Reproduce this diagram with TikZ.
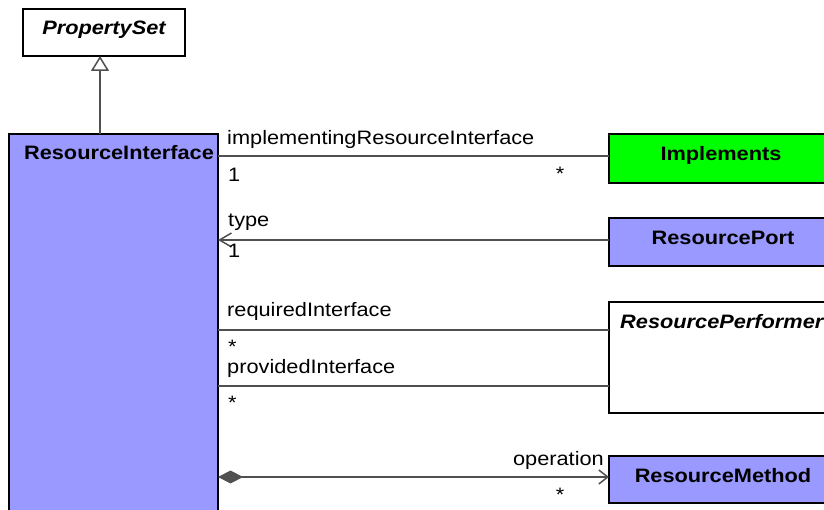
\documentclass[tikz,border=0pt]{standalone}
\usepackage{fontspec}
\setmainfont{Liberation Sans}[FakeStretch=1.12]
\usetikzlibrary{arrows.meta}
\definecolor{riblue}{HTML}{9999FF}
\definecolor{implgreen}{HTML}{00FF00}
\definecolor{linegray}{HTML}{505050}
\begin{document}
\begin{tikzpicture}[x=1bp,y=-1bp,
  font=\fontsize{19.5}{22}\selectfont,
  box/.style={draw=black, line width=2bp, inner sep=0pt, outer sep=0pt, anchor=north west},
  conn/.style={draw=linegray, line width=1.5bp},
  title/.style={anchor=base, inner sep=0pt, font=\fontsize{19.5}{22}\selectfont\bfseries},
  lbl/.style={anchor=base west, inner sep=0pt},
  mult/.style={anchor=base, inner sep=0pt}]
\useasboundingbox (0,0) rectangle (824,510);
\clip (0,0) rectangle (824,510);
% boxes
\node[box, fill=white, minimum width=162bp, minimum height=47bp] (ps) at (23,9) {};
\node[box, fill=riblue, minimum width=209bp, minimum height=396bp] (ri) at (9,134) {};
\node[box, fill=implgreen, minimum width=226bp, minimum height=49bp] (imp) at (609,134) {};
\node[box, fill=riblue, minimum width=226bp, minimum height=48bp] (rp) at (609,218) {};
\node[box, fill=white, minimum width=226bp, minimum height=111bp] (rper) at (609,302) {};
\node[box, fill=riblue, minimum width=226bp, minimum height=47bp] (rm) at (609,456) {};
% titles
\node[title, font=\fontsize{19.5}{22}\selectfont\bfseries\itshape] (pst) at (104,35) {PropertySet};
\node[title] (rit) at (119,160) {ResourceInterface};
\node[title] (impt) at (721,161) {Implements};
\node[title] (rpt) at (723,245) {ResourcePort};
\node[title, anchor=base west, font=\fontsize{19.5}{22}\selectfont\bfseries\itshape] (rpert) at (620,329) {ResourcePerformer};
\node[title] (rmt) at (723,482) {ResourceMethod};
% levels
\coordinate (gx) at (100,0);
\coordinate (l1) at (0,156);
\coordinate (l2) at (0,240);
\coordinate (l3) at (0,330);
\coordinate (l4) at (0,386);
\coordinate (l5) at (0,477);
% connectors
\draw[conn, -{Triangle[open, length=15bp, width=18bp, fill=white]}] (ri.north -| gx) -- (ps.south -| gx);
\draw[conn] (ri.east |- l1) -- (imp.west |- l1);
\draw[conn, {Straight Barb[length=12bp, width=14bp]}-] (ri.east |- l2) -- (rp.west |- l2);
\draw[conn] (ri.east |- l3) -- (rper.west |- l3);
\draw[conn] (ri.east |- l4) -- (rper.west |- l4);
\draw[conn, {Diamond[length=25bp, width=13bp, fill=linegray]}-{Straight Barb[length=9bp, width=14bp]}] (ri.east |- l5) -- (rm.west |- l5);
% labels
\node[lbl] (a1) at (227,145) {implementingResourceInterface};
\node[lbl] (a1m) at (228,182) {1};
\node[mult] (a1s) at (560,181) {*};
\node[lbl] (a2) at (228,227) {type};
\node[lbl] (a2m) at (228,258) {1};
\node[lbl] (a3) at (227,317) {requiredInterface};
\node[lbl] (a3m) at (228,353) {*};
\node[lbl] (a4) at (227,373) {providedInterface};
\node[lbl] (a4m) at (228,409) {*};
\node[anchor=base east, inner sep=0pt] (a5) at (604,465) {operation};
\node[mult] (a5s) at (560,501) {*};
\end{tikzpicture}
\end{document}
